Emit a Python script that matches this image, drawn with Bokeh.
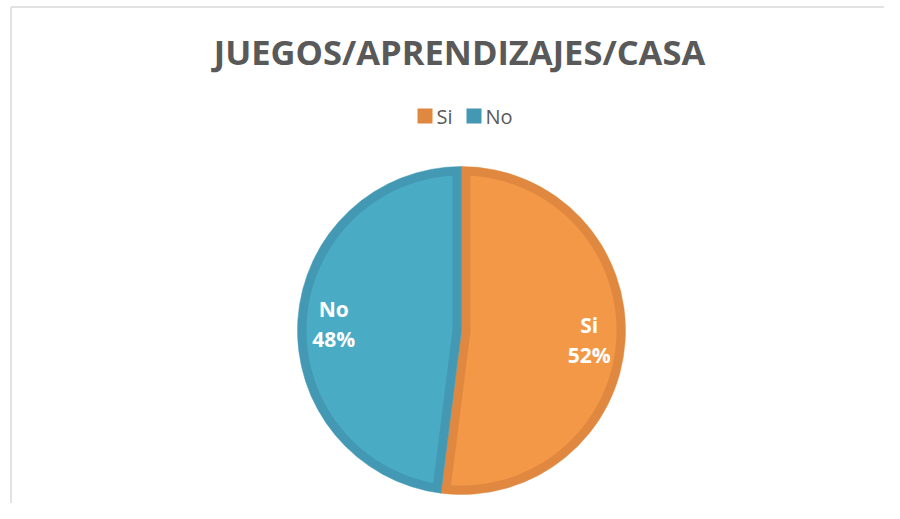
import numpy as np
from bokeh.plotting import figure
from bokeh.models import Range1d, ColumnDataSource
from bokeh.core.properties import value
from bokeh.embed import file_html
from bokeh.resources import INLINE

# ---- data ----
title_text = "JUEGOS/APRENDIZAJES/CASA"
categories = ["Si", "No"]
values = [52, 48]

# ---- styles ----
fill_colors = ["#F29847", "#4AABC5"]
edge_colors = ["#E0883F", "#4399B3"]
text_gray = "#595959"
FONT = "Open Sans"

W, H = 884, 503
p = figure(width=W, height=H, output_backend="svg", toolbar_location=None,
           x_range=Range1d(0, W), y_range=Range1d(0, H), min_border=0)
p.axis.visible = False
p.grid.visible = False
p.outline_line_color = None
p.background_fill_color = "white"
p.border_fill_color = "white"

# chart frame (top and left edges visible)
p.segment(x0=[10.5, 10.5], y0=[496.5, 496.5], x1=[W, 10.5], y1=[496.5, 0],
          line_color="#D9D9D9", line_width=1.5)

# ---- pie geometry ----
cx, cy, r, d = 461.0, 173.0, 164.0, 9.0
vals = np.array(values, dtype=float)
frac = vals / vals.sum()
ends_cw = np.pi / 2 - np.cumsum(frac) * 2 * np.pi
starts_ccw = ends_cw
ends_ccw = ends_cw + frac * 2 * np.pi

# outer (edge coloured) wedges
src = ColumnDataSource(dict(start=starts_ccw, end=ends_ccw, color=edge_colors,
                            cat=categories))
p.wedge(x=cx, y=cy, radius=r, start_angle="start", end_angle="end",
        direction="anticlock", fill_color="color", line_color="color",
        line_width=0.5, source=src)

# inner (fill coloured) inset polygons
xs, ys = [], []
ri = r - d
s = np.sqrt(ri ** 2 - d ** 2)
for a, b in zip(starts_ccw, ends_ccw):
    m = (a + b) / 2
    th = (b - a) / 2
    P = (d / np.sin(th)) * np.array([np.cos(m), np.sin(m)])
    A = d * np.array([-np.sin(a), np.cos(a)]) + s * np.array([np.cos(a), np.sin(a)])
    B = d * np.array([np.sin(b), -np.cos(b)]) + s * np.array([np.cos(b), np.sin(b)])
    angA = np.arctan2(A[1], A[0])
    angB = np.arctan2(B[1], B[0])
    while angB < angA:
        angB += 2 * np.pi
    arc = np.linspace(angA, angB, 200)
    px = [P[0]] + list(ri * np.cos(arc)) + [P[0]]
    py = [P[1]] + list(ri * np.sin(arc)) + [P[1]]
    xs.append([cx + v for v in px])
    ys.append([cy + v for v in py])
p.patches(xs=xs, ys=ys, fill_color=fill_colors, line_color=None)

# data labels
lab_r = 128.0
mids = (starts_ccw + ends_ccw) / 2
lx = cx + lab_r * np.cos(mids)
ly = cy + lab_r * np.sin(mids)
pct = [f"{int(round(f * 100))}%" for f in frac]
p.text(x=lx, y=ly + 13.5, text=categories, text_align="center",
       text_baseline="alphabetic", text_color="white",
       text_font=value(FONT), text_font_size="21px", text_font_style="bold")
p.text(x=lx, y=ly - 16.5, text=pct, text_align="center",
       text_baseline="alphabetic", text_color="white",
       text_font=value(FONT), text_font_size="21px", text_font_style="bold")

# title
p.text(x=[459], y=[452], text=[title_text], text_align="center",
       text_baseline="alphabetic", text_color=text_gray,
       text_font=value(FONT), text_font_size="34.5px", text_font_style="bold")

# legend
sq_x = [424.5, 473.5]
p.rect(x=sq_x, y=[387.5, 387.5], width=15, height=15, fill_color=edge_colors,
       line_color=None)
p.text(x=[x + 11.5 for x in sq_x], y=[387, 387], text=categories,
       text_align="left", text_baseline="alphabetic", text_color=text_gray,
       text_font=value(FONT), text_font_size="20px")

open("out.html", "w").write(file_html(p, INLINE))
